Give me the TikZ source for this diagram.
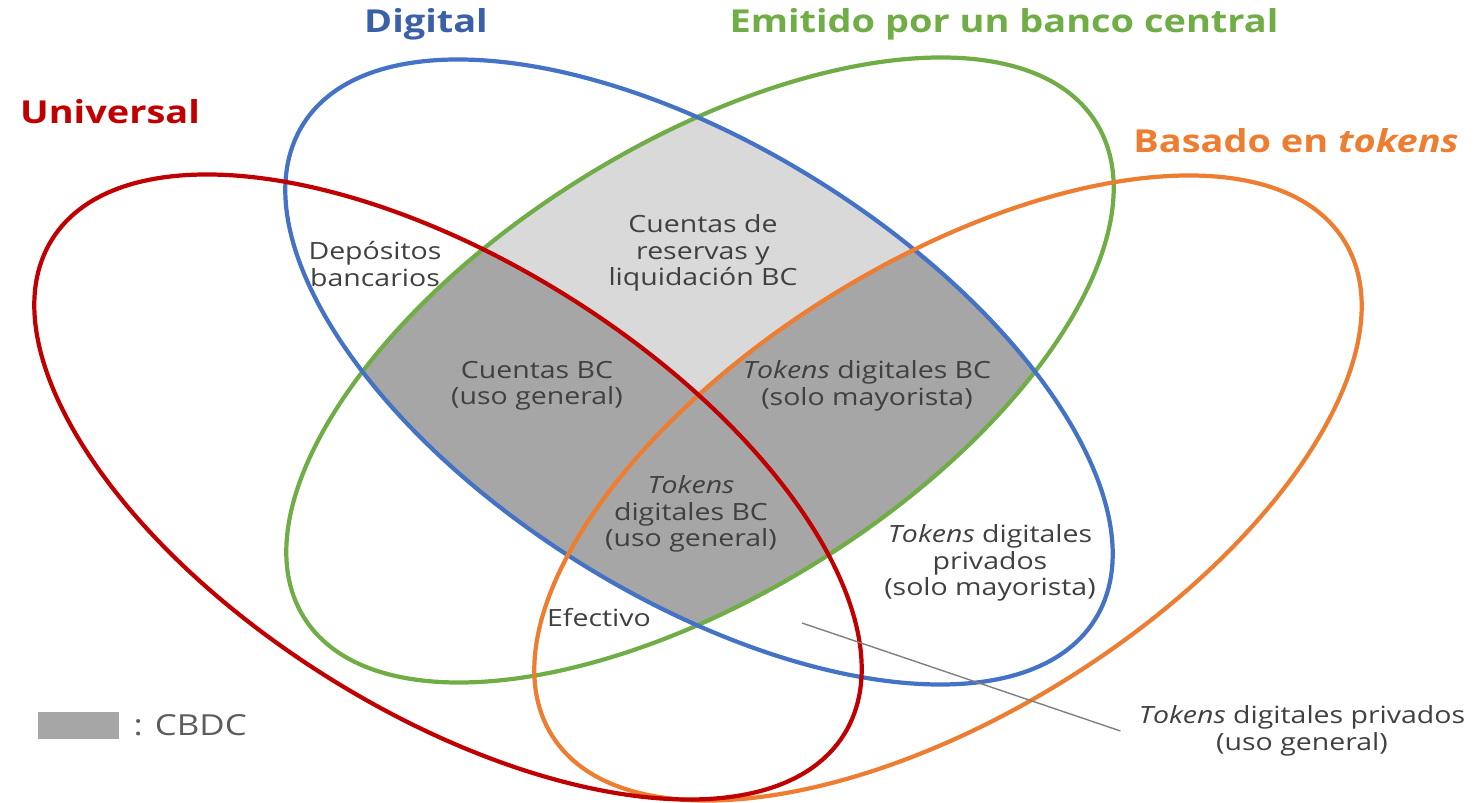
\documentclass[tikz,border=0pt]{standalone}
\usepackage{fontspec}
\setmainfont{Open Sans}[FakeStretch=1.2]
\usepackage{tikz}
\usetikzlibrary{positioning}

\definecolor{univred}{HTML}{C00000}
\definecolor{digblue}{HTML}{4472C4}
\definecolor{bcgreen}{HTML}{70AD47}
\definecolor{tokorange}{HTML}{ED7D31}
\definecolor{resfill}{HTML}{D9D9D9}
\definecolor{cbdcfill}{HTML}{A6A6A6}
\definecolor{txtgray}{HTML}{404040}

% the four sets: same ellipse, moved and tilted
\tikzset{
  univ/.style={rotate around={-32:(448,487)},insert path={(448,487) ellipse [x radius=467,y radius=225]}},
  digi/.style={rotate around={-32:(699,372)},insert path={(699,372) ellipse [x radius=467,y radius=225]}},
  emit/.style={rotate around={32:(700,370)},insert path={(700,370) ellipse [x radius=467,y radius=225]}},
  toke/.style={rotate around={32:(948,488)},insert path={(948,488) ellipse [x radius=467,y radius=225]}}
}

\begin{document}
\begin{tikzpicture}[x=0.02cm,y=-0.02cm,
    ring/.style={line width=2.4pt},
    lbl/.style={text=txtgray,align=center,inner sep=0pt,font=\fontsize{13.5}{15}\selectfont},
    ttl/.style={anchor=base,inner sep=0pt,font=\fontsize{18}{20}\selectfont\bfseries},
    leader/.style={draw=gray,line width=0.8pt}]
\useasboundingbox (0,0) rectangle (1474,803);

% shaded intersections
\begin{scope}
  \clip[digi];
  \clip[emit];
  \fill[resfill] (0,0) rectangle (1474,803);
  \fill[cbdcfill,univ];
  \fill[cbdcfill,toke];
\end{scope}

\draw[ring,bcgreen,emit];
\draw[ring,digblue,digi];
\draw[ring,tokorange,toke];
\draw[ring,univred,univ];

% titles
\node (tuniv) [ttl,text=univred] at (110,124) {Universal};
\node (tdigi) [ttl,text=digblue!85!black] at (426,33) {Digital};
\node (temit) [ttl,text=bcgreen] at (1004,33) {Emitido por un banco central};
\node (ttoke) [ttl,text=tokorange] at (1296,153) {Basado en \textit{tokens}};

% regions
\node (depos) [lbl] at (375,264) {Depósitos\\bancarios};
\node (reserv) [lbl] at (703,253) {Cuentas de\\reservas y\\liquidación BC};
\node (cuentasbc) [lbl] at (537,386) {Cuentas BC\\(uso general)};
\node (tdbcmay) [lbl] at (867,386) {\textit{Tokens} digitales BC\\(solo mayorista)};
\node (tdbcgen) [lbl] at (691,514) {\textit{Tokens}\\digitales BC\\(uso general)};
\node (tdpmay) [lbl] at (990,563) {\textit{Tokens} digitales\\privados\\(solo mayorista)};
\node (efect) [lbl] at (599,618) {Efectivo};
\node (tdpgen) [lbl] at (1302,731) {\textit{Tokens} digitales privados\\(uso general)};

\coordinate (leadtip) at (802,623);
\draw[leader] (leadtip) -- ([xshift=-0.36cm]tdpgen.west);

% legend
\node (legbox) [fill=cbdcfill,minimum width=1.62cm,minimum height=0.54cm,inner sep=0pt] at (78.5,725.5) {};
\node (cbdc) [right=0.28cm of legbox,inner sep=0pt,text=txtgray!85,font=\fontsize{16.5}{18}\selectfont] {: CBDC};
\end{tikzpicture}
\end{document}
